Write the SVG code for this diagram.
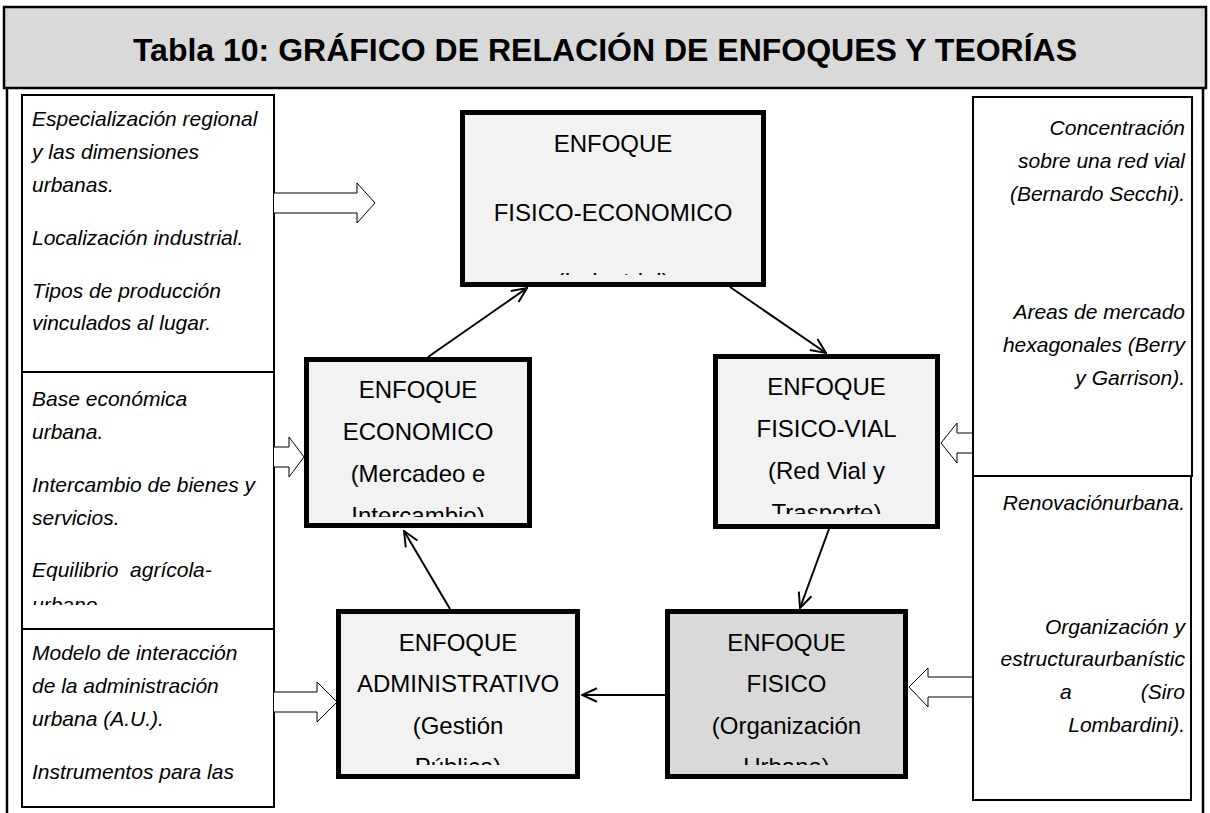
<svg xmlns="http://www.w3.org/2000/svg" width="1210" height="813" viewBox="0 0 1210 813">
<style>
.frame{fill:none;stroke:#000;stroke-width:2.5}
.band{fill:#d9d9d9;stroke:#000;stroke-width:2.5}
.title{font-family:"Liberation Sans",Arial,sans-serif;font-weight:bold;font-size:32px;text-anchor:middle;fill:#000}
.note{fill:#fff;stroke:#000;stroke-width:2}
.it{font-family:"Liberation Sans",Arial,sans-serif;font-style:italic;font-size:21px;fill:#000}
.r{text-anchor:end}
.node{fill:#f2f2f2;stroke:#000;stroke-width:5}
.node.dark{fill:#d9d9d9}
.nt{font-family:"Liberation Sans",Arial,sans-serif;font-size:24px;text-anchor:middle;fill:#000}
.conn{stroke:#000;stroke-width:2;fill:none;marker-end:url(#arr)}
.block{fill:#fff;stroke:#000;stroke-width:1}
</style>
<defs>
<marker id="arr" viewBox="0 0 12 12" refX="11" refY="6" markerWidth="18" markerHeight="18" markerUnits="userSpaceOnUse" orient="auto">
<path d="M1,1.5 L11,6 L1,10.5" fill="none" stroke="#000" stroke-width="1.3"/>
</marker>
<clipPath id="c1"><rect x="463" y="113" width="300" height="162"/></clipPath>
<clipPath id="c2"><rect x="307" y="360" width="221" height="157"/></clipPath>
<clipPath id="c3"><rect x="716" y="357" width="221" height="157"/></clipPath>
<clipPath id="c4"><rect x="339" y="612" width="238" height="153"/></clipPath>
<clipPath id="c5"><rect x="668" y="612" width="237" height="153"/></clipPath>
<clipPath id="cl2"><rect x="23" y="373" width="250" height="232"/></clipPath>
</defs>

<g id="frame">
<rect class="band" x="4" y="7" width="1202" height="81"/>
<line class="frame" x1="7" y1="88" x2="7" y2="813"/>
<line class="frame" x1="1203" y1="88" x2="1203" y2="813"/>
<text class="title" x="605" y="61">Tabla 10: GRÁFICO DE RELACIÓN DE ENFOQUES Y TEORÍAS</text>
</g>

<g id="left-note-1">
<rect class="note" x="22" y="95" width="252" height="277"/>
<text class="it" x="32" y="126">Especialización regional</text>
<text class="it" x="32" y="159">y las dimensiones</text>
<text class="it" x="32" y="192">urbanas.</text>
<text class="it" x="32" y="245">Localización industrial.</text>
<text class="it" x="32" y="298">Tipos de producción</text>
<text class="it" x="32" y="330">vinculados al lugar.</text>
</g>

<g id="left-note-2">
<rect class="note" x="22" y="372" width="252" height="257"/>
<g clip-path="url(#cl2)">
<text class="it" x="32" y="406">Base económica</text>
<text class="it" x="32" y="439">urbana.</text>
<text class="it" x="32" y="492">Intercambio de bienes y</text>
<text class="it" x="32" y="525">servicios.</text>
<text class="it" x="32" y="577" xml:space="preserve">Equilibrio  agrícola-</text>
<text class="it" x="32" y="612">urbano.</text>
</g>
</g>

<g id="left-note-3">
<rect class="note" x="22" y="629" width="252" height="178"/>
<text class="it" x="32" y="660">Modelo de interacción</text>
<text class="it" x="32" y="693">de la administración</text>
<text class="it" x="32" y="726">urbana (A.U.).</text>
<text class="it" x="32" y="779">Instrumentos para las</text>
</g>

<g id="right-note-1">
<rect class="note" x="973" y="97" width="219" height="379"/>
<text class="it r" x="1185" y="135">Concentración</text>
<text class="it r" x="1185" y="168">sobre una red vial</text>
<text class="it r" x="1185" y="201">(Bernardo Secchi).</text>
<text class="it r" x="1185" y="319">Areas de mercado</text>
<text class="it r" x="1185" y="352">hexagonales (Berry</text>
<text class="it r" x="1185" y="385">y Garrison).</text>
</g>

<g id="right-note-2">
<rect class="note" x="973" y="476" width="218" height="324"/>
<text class="it r" x="1185" y="510">Renovaciónurbana.</text>
<text class="it r" x="1185" y="634">Organización y</text>
<text class="it r" x="1185" y="666">estructuraurbanístic</text>
<text class="it" x="1060" y="699">a</text>
<text class="it r" x="1185" y="699">(Siro</text>
<text class="it r" x="1185" y="732">Lombardini).</text>
</g>

<g id="node-fisico-economico">
<rect class="node" x="462.5" y="112.5" width="301" height="172"/>
<g clip-path="url(#c1)">
<text class="nt" x="613" y="152">ENFOQUE</text>
<text class="nt" x="613" y="221">FISICO-ECONOMICO</text>
<text class="nt" x="613" y="290">(Industrial)</text>
</g>
</g>

<g id="node-economico">
<rect class="node" x="306.5" y="359.5" width="223" height="166"/>
<g clip-path="url(#c2)">
<text class="nt" x="418" y="398">ENFOQUE</text>
<text class="nt" x="418" y="440">ECONOMICO</text>
<text class="nt" x="418" y="482">(Mercadeo e</text>
<text class="nt" x="418" y="524">Intercambio)</text>
</g>
</g>

<g id="node-fisico-vial">
<rect class="node" x="715.5" y="356.5" width="222" height="170"/>
<g clip-path="url(#c3)">
<text class="nt" x="826.5" y="395">ENFOQUE</text>
<text class="nt" x="826.5" y="437">FISICO-VIAL</text>
<text class="nt" x="826.5" y="479">(Red Vial y</text>
<text class="nt" x="826.5" y="521">Trasporte)</text>
</g>
</g>

<g id="node-administrativo">
<rect class="node" x="338.5" y="611.5" width="239" height="165"/>
<g clip-path="url(#c4)">
<text class="nt" x="458" y="651">ENFOQUE</text>
<text class="nt" x="458" y="692">ADMINISTRATIVO</text>
<text class="nt" x="458" y="734">(Gestión</text>
<text class="nt" x="458" y="775">Pública)</text>
</g>
</g>

<g id="node-fisico">
<rect class="node dark" x="667.5" y="611.5" width="238" height="165"/>
<g clip-path="url(#c5)">
<text class="nt" x="786.5" y="651">ENFOQUE</text>
<text class="nt" x="786.5" y="692">FISICO</text>
<text class="nt" x="786.5" y="734">(Organización</text>
<text class="nt" x="786.5" y="775">Urbana)</text>
</g>
</g>

<g id="connectors">
<line class="conn" x1="450" y1="609" x2="404" y2="531"/>
<line class="conn" x1="428" y1="357" x2="527" y2="288"/>
<line class="conn" x1="730" y1="287" x2="826" y2="353"/>
<line class="conn" x1="829" y1="529" x2="800" y2="608"/>
<line class="conn" x1="665" y1="695" x2="582" y2="695"/>
<path class="block" d="M274,193 H357 V183 L375,203 L357,223 V213 H274"/>
<path class="block" d="M274,447 H289 V437 L304,457 L289,477 V467 H274"/>
<path class="block" d="M972,433 H957 V423 L941,443 L957,463 V453 H972"/>
<path class="block" d="M274,692 H317 V682 L337,702 L317,722 V712 H274"/>
<path class="block" d="M972,677 H928 V668 L909,687 L928,707 V697 H972"/>
</g>
</svg>
